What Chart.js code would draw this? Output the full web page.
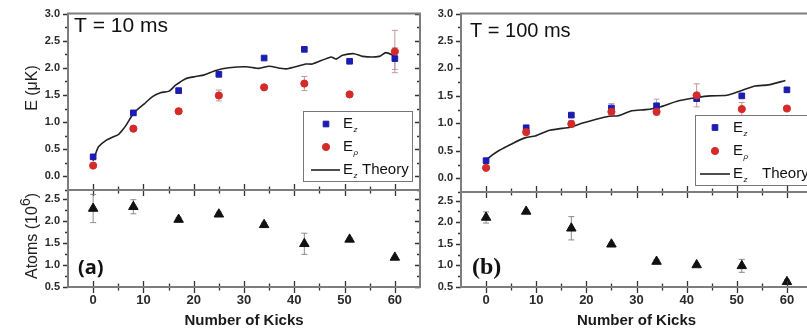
<!DOCTYPE html>
<html>
<head>
<meta charset="utf-8">
<script src="https://cdn.jsdelivr.net/npm/chart.js@4/dist/chart.umd.min.js"></script>
<style>
  html, body { margin: 0; padding: 0; background: #fff; overflow: hidden; width: 807px; height: 335px; }
  canvas { position: absolute; left: 0; top: 0; }
</style>
</head>
<body>
<canvas id="energyA" width="820" height="335"></canvas>
<canvas id="atomsA" width="820" height="335"></canvas>
<canvas id="energyB" width="820" height="335"></canvas>
<canvas id="atomsB" width="820" height="335"></canvas>
<script>
// Kick-heating measurements: energies and atom numbers vs. number of kicks

const kicks = [0, 8, 17, 25, 34, 42, 51, 60];
const xTickVals = [0, 10, 20, 30, 40, 50, 60];
const energyTickVals = [0, 0.5, 1, 1.5, 2, 2.5, 3];
const atomTickVals = [0.5, 1, 1.5, 2, 2.5];

// T = 10 ms
const ezA = [0.36, 1.17, 1.58, 1.88, 2.18, 2.34, 2.12, 2.17];
const ezErrA = [0.03, 0.03, 0.03, 0.03, 0.03, 0.03, 0.03, 0.20];
const erA = [0.20, 0.88, 1.20, 1.49, 1.64, 1.71, 1.51, 2.30];
const erErrA = [0.03, 0.04, 0.04, 0.10, 0.04, 0.13, 0.03, 0.39];
const theoryKicksA = [0, 0.5, 1.1, 2.5, 3.8, 5.0, 5.8, 6.6, 8.1, 10.1, 11.8, 13.4, 15.1, 16.4, 18.4, 20.4, 22.1,
  24.4, 27, 30.4, 33, 35, 38.3, 42.3, 43.6, 47.3, 48.3, 49.6, 51.9, 53.6, 56.9, 58.2, 59.9];
const theoryA = [0.29, 0.42, 0.55, 0.66, 0.72, 0.77, 0.85, 0.95, 1.17, 1.33, 1.47, 1.54, 1.57, 1.68, 1.80, 1.84, 1.87,
  1.95, 2.00, 2.02, 1.99, 2.03, 1.98, 2.07, 2.07, 2.20, 2.16, 2.23, 2.26, 2.21, 2.21, 2.28, 2.22];
const atomsA = [2.28, 2.32, 2.03, 2.15, 1.91, 1.48, 1.58, 1.17];
const atomsErrA = [0.32, 0.16, 0.05, 0.05, 0.05, 0.24, 0.03, 0.02];

// T = 100 ms
const ezB = [0.32, 0.92, 1.15, 1.28, 1.32, 1.45, 1.50, 1.61];
const ezErrB = [0.03, 0.03, 0.03, 0.08, 0.12, 0.05, 0.03, 0.03];
const erB = [0.19, 0.84, 0.99, 1.21, 1.21, 1.51, 1.26, 1.27];
const erErrB = [0.03, 0.03, 0.06, 0.05, 0.06, 0.21, 0.12, 0.03];
const theoryKicksB = [0, 0.5, 2.5, 5.2, 7.9, 9.8, 12.5, 14.5, 16.8, 19.1, 21.8, 24.5, 26.4, 29.1, 31.8, 34.4,
  38.4, 42.1, 44.7, 48.0, 51.0, 53.7, 56.3, 59.7];
const theoryB = [0.31, 0.37, 0.50, 0.63, 0.74, 0.77, 0.87, 0.90, 0.93, 1.00, 1.07, 1.13, 1.14, 1.23, 1.25, 1.29,
  1.41, 1.47, 1.50, 1.51, 1.60, 1.68, 1.70, 1.78];
const atomsB = [2.11, 2.25, 1.86, 1.49, 1.09, 1.01, 0.99, 0.62];
const atomsErrB = [0.13, 0.03, 0.27, 0.03, 0.04, 0.03, 0.15, 0.05];

const FONT = '"Liberation Sans", Arial, sans-serif';
Chart.defaults.font.family = FONT;
const W = 820, H = 335;

const pts = (xs, ys) => xs.map((x, i) => ({ x: x, y: ys[i] }));

// error bars drawn under the markers
const errorBars = {
  id: 'errorBars',
  beforeDatasetsDraw(chart) {
    const { ctx, chartArea: a, scales: { x, y } } = chart;
    ctx.save();
    ctx.beginPath();
    ctx.rect(a.left, a.top, a.right - a.left, a.bottom - a.top);
    ctx.clip();
    chart.data.datasets.forEach(ds => {
      if (!ds.errors) return;
      ctx.strokeStyle = ds.errorColor;
      ctx.lineWidth = 1;
      ds.data.forEach((p, i) => {
        const e = ds.errors[i];
        const px = x.getPixelForValue(p.x);
        const y0 = y.getPixelForValue(p.y - e);
        const y1 = y.getPixelForValue(p.y + e);
        ctx.beginPath();
        ctx.moveTo(px, y0); ctx.lineTo(px, y1);
        ctx.moveTo(px - 3, y0); ctx.lineTo(px + 3, y0);
        ctx.moveTo(px - 3, y1); ctx.lineTo(px + 3, y1);
        ctx.stroke();
      });
    });
    ctx.restore();
  }
};

// box around the plot plus major/minor tick marks
const frame = {
  id: 'frame',
  afterDatasetsDraw(chart, args, o) {
    const { ctx, chartArea: a, scales: { x, y } } = chart;
    ctx.save();
    ctx.strokeStyle = '#333';
    ctx.lineWidth = 1.3;
    ctx.beginPath();
    for (let v = Math.ceil(y.min / 0.25) * 0.25; v <= y.max + 1e-9; v += 0.25) {
      const py = Math.round(y.getPixelForValue(v)) + 0.5;
      const major = Math.abs(v / 0.5 - Math.round(v / 0.5)) < 1e-6;
      const len = major ? 5 : 3;
      ctx.moveTo(a.left - len, py); ctx.lineTo(a.left, py);
      ctx.moveTo(a.right, py); ctx.lineTo(a.right - len, py);
    }
    for (let v = 0; v <= 60; v += 5) {
      const px = Math.round(x.getPixelForValue(v)) + 0.5;
      const major = v % 10 === 0;
      const len = major ? 6 : 3.5;
      ctx.moveTo(px, a.bottom - len); ctx.lineTo(px, a.bottom + len);
    }
    ctx.stroke();
    ctx.strokeStyle = '#7d7d7d';
    ctx.lineWidth = 2;
    ctx.strokeRect(a.left, a.top, a.right - a.left, a.bottom - a.top);
    ctx.restore();
  }
};

// boxed legend with subscripted labels
const boxLegend = {
  id: 'boxLegend',
  afterDatasetsDraw(chart, args, o) {
    if (!o.rows) return;
    const ctx = chart.ctx;
    ctx.save();
    ctx.fillStyle = '#fff';
    ctx.fillRect(o.left, o.top, o.width, o.height);
    ctx.strokeStyle = '#777';
    ctx.lineWidth = 1;
    ctx.strokeRect(o.left + 0.5, o.top + 0.5, o.width, o.height);
    o.rows.forEach((row, i) => {
      const ds = chart.data.datasets[row.ds];
      const cy = o.top + o.rowY[i];
      if (ds.showLine) {
        ctx.strokeStyle = ds.borderColor;
        ctx.lineWidth = ds.borderWidth;
        ctx.beginPath();
        ctx.moveTo(o.lineX0, cy); ctx.lineTo(o.lineX1, cy);
        ctx.stroke();
      } else {
        ctx.fillStyle = ds.backgroundColor;
        ctx.strokeStyle = ds.borderColor;
        ctx.lineWidth = 1;
        Chart.helpers.drawPoint(ctx, { pointStyle: ds.pointStyle, radius: ds.pointRadius, borderWidth: 1, rotation: 0 }, o.markerX, cy);
      }
      ctx.fillStyle = '#111';
      ctx.textBaseline = 'middle';
      ctx.textAlign = 'left';
      ctx.font = '15px ' + FONT;
      ctx.fillText('E', o.textX, cy);
      const ew = ctx.measureText('E').width;
      ctx.font = 'italic 8px ' + FONT;
      ctx.fillText(row.sub, o.textX + ew + 0.5, cy + 6);
      if (row.extra) {
        ctx.font = '15px ' + FONT;
        ctx.fillText(row.extra, o.extraX, cy);
      }
    });
    ctx.restore();
  }
};

// free text: panel labels and rotated axis titles
const notes = {
  id: 'notes',
  afterDraw(chart, args, o) {
    const ctx = chart.ctx;
    (o.items || []).forEach(t => {
      ctx.save();
      ctx.fillStyle = t.color || '#111';
      ctx.translate(t.x, t.y);
      if (t.rotate) ctx.rotate(-Math.PI / 2);
      ctx.font = t.font;
      ctx.textBaseline = 'alphabetic';
      if (t.sup) {
        ctx.font = t.font;
        const w1 = ctx.measureText(t.text).width;
        ctx.font = t.supFont;
        const ws = ctx.measureText(t.sup).width;
        ctx.font = t.font;
        const w2 = ctx.measureText(t.after).width;
        let cx = -(w1 + ws + w2) / 2;
        ctx.textAlign = 'left';
        ctx.fillText(t.text, cx, 0);
        ctx.font = t.supFont;
        ctx.fillText(t.sup, cx + w1, -7);
        ctx.font = t.font;
        ctx.fillText(t.after, cx + w1 + ws, 0);
      } else {
        ctx.textAlign = t.align || 'left';
        ctx.fillText(t.text, 0, 0);
      }
      ctx.restore();
    });
  }
};

function scales(showX, yMin, yMax, yVals, yWidth) {
  return {
    x: {
      type: 'linear', min: -5, max: 65, display: showX,
      afterBuildTicks: s => { s.ticks = xTickVals.map(v => ({ value: v })); },
      afterFit: s => { if (showX) s.height = 48; },
      grid: { display: false, drawTicks: false },
      border: { display: false },
      ticks: { autoSkip: false, maxRotation: 0, padding: 6, color: '#2a2a2a', font: { size: 13, weight: 'bold' } },
      title: { display: showX, text: 'Number of Kicks', color: '#1a1a1a', font: { size: 15, weight: 'bold' }, padding: { top: 0, bottom: 5 } }
    },
    y: {
      type: 'linear', min: yMin, max: yMax,
      afterBuildTicks: s => { s.ticks = yVals.map(v => ({ value: v })); },
      afterFit: s => { s.width = yWidth; },
      grid: { display: false, drawTicks: false },
      border: { display: false },
      ticks: { autoSkip: false, padding: 8, color: '#2a2a2a', font: { size: 11, weight: 'bold', lineHeight: 1 }, callback: v => v.toFixed(1) }
    }
  };
}

function energyChart(id, pad, yWidth, ez, ezErr, er, erErr, thK, th, legend, items) {
  return new Chart(document.getElementById(id), {
    type: 'scatter',
    data: {
      datasets: [
        { label: 'Ez', data: pts(kicks, ez), errors: ezErr, errorColor: 'rgba(150,150,170,0.8)',
          pointStyle: 'rect', pointRadius: 4, backgroundColor: '#1c1cb0', borderColor: '#1c1cb0', order: 2 },
        { label: 'Erho', data: pts(kicks, er), errors: erErr, errorColor: 'rgba(190,140,140,0.9)',
          pointStyle: 'circle', pointRadius: 3.6, backgroundColor: '#d42a2a', borderColor: '#d42a2a', order: 1 },
        { label: 'Ez Theory', data: pts(thK, th), showLine: true, pointRadius: 0,
          borderColor: '#222', borderWidth: 1.6, tension: 0.2, order: 3 }
      ]
    },
    options: {
      responsive: false, animation: false, events: [],
      layout: { padding: pad },
      scales: scales(false, -0.25, 3, energyTickVals, yWidth),
      plugins: { legend: { display: false }, tooltip: { enabled: false }, boxLegend: legend, notes: { items: items } }
    },
    plugins: [errorBars, frame, boxLegend, notes]
  });
}

function atomsChart(id, pad, yWidth, atoms, atomsErr, items) {
  return new Chart(document.getElementById(id), {
    type: 'scatter',
    data: {
      datasets: [
        { label: 'Atoms', data: pts(kicks, atoms), errors: atomsErr, errorColor: 'rgba(120,120,120,0.85)',
          pointStyle: 'triangle', pointRadius: 5.5, backgroundColor: '#111', borderColor: '#111' }
      ]
    },
    options: {
      responsive: false, animation: false, events: [],
      layout: { padding: pad },
      scales: scales(true, 0.5, 2.7, atomTickVals, yWidth),
      plugins: { legend: { display: false }, tooltip: { enabled: false }, boxLegend: {}, notes: { items: items } }
    },
    plugins: [errorBars, frame, boxLegend, notes]
  });
}

const axisFont = '16px ' + FONT;

energyChart('energyA', { left: 0, top: 6, right: W - 420, bottom: H - 190 }, 68,
  ezA, ezErrA, erA, erErrA, theoryKicksA, theoryA,
  { left: 303, top: 111, width: 109, height: 70, rowY: [13, 36, 59],
    markerX: 326, textX: 343, lineX0: 311, lineX1: 340, extraX: 362,
    rows: [{ ds: 0, sub: 'z' }, { ds: 1, sub: 'ρ' }, { ds: 2, sub: 'z', extra: 'Theory' }] },
  [
    { text: 'T = 10 ms', x: 74, y: 32, font: '21px ' + FONT },
    { text: 'E (μK)', x: 37, y: 88, rotate: true, align: 'center', font: axisFont, color: '#222' }
  ]);

atomsChart('atomsA', { left: 0, top: 190, right: W - 420, bottom: 0 }, 68, atomsA, atomsErrA, [
  { text: '(a)', x: 78, y: 274, font: 'bold 20px "Open Sans", ' + FONT },
  { text: 'Atoms (10', sup: '6', after: ')', x: 37, y: 236, rotate: true, font: axisFont, supFont: '14px ' + FONT, color: '#222' }
]);

energyChart('energyB', { left: 400, top: 9, right: W - 812, bottom: H - 192 }, 61,
  ezB, ezErrB, erB, erErrB, theoryKicksB, theoryB,
  { left: 695, top: 115, width: 130, height: 70, rowY: [12.5, 36, 59],
    markerX: 715, textX: 733, lineX0: 700, lineX1: 730, extraX: 762,
    rows: [{ ds: 0, sub: 'z' }, { ds: 1, sub: 'ρ' }, { ds: 2, sub: 'z', extra: 'Theory' }] },
  [
    { text: 'T = 100 ms', x: 470, y: 37, font: '20px ' + FONT }
  ]);

atomsChart('atomsB', { left: 400, top: 192, right: W - 812, bottom: 0 }, 61, atomsB, atomsErrB, [
  { text: '(b)', x: 472, y: 274, font: 'bold 24px "Liberation Serif", serif' }
]);
</script>
</body>
</html>
